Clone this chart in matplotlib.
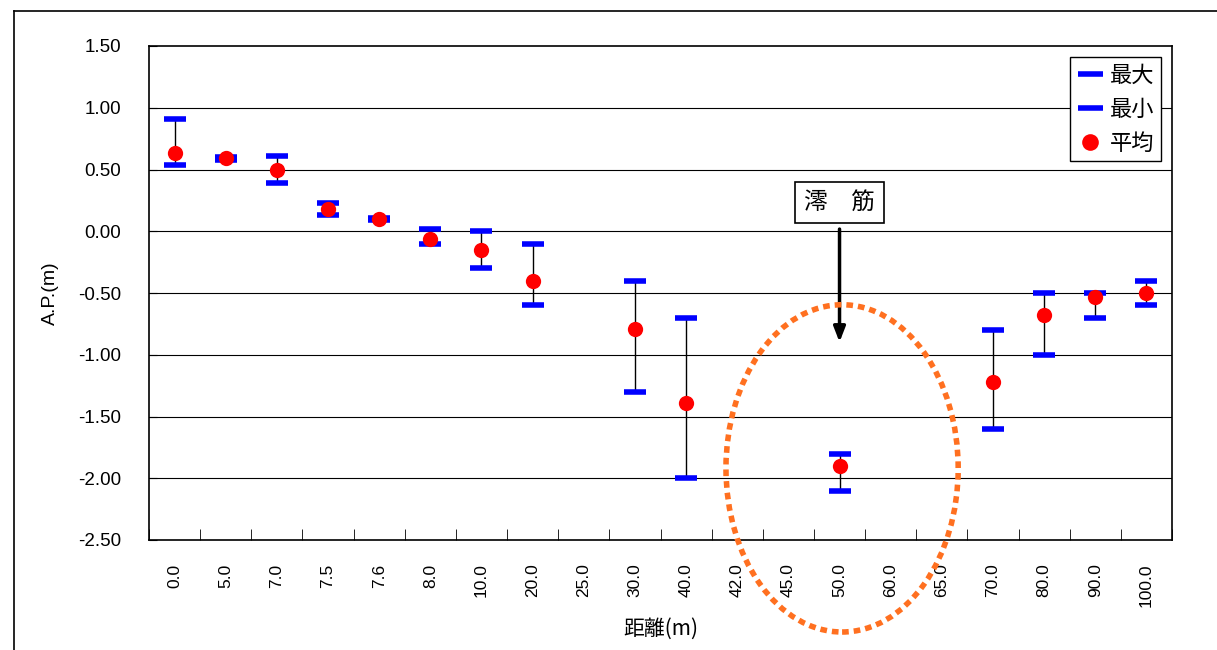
import matplotlib.pyplot as plt
import matplotlib
from matplotlib.lines import Line2D
from matplotlib.patches import Ellipse
import numpy as np

# フォント設定（日本語対応）
matplotlib.rcParams['font.family'] = ['Liberation Sans', 'Noto Sans CJK JP', 'DejaVu Sans']
matplotlib.rcParams['axes.unicode_minus'] = False

# データ：距離ごとの最大・最小・平均 (A.P. m)
distances = ['0.0', '5.0', '7.0', '7.5', '7.6', '8.0', '10.0', '20.0', '25.0', '30.0',
             '40.0', '42.0', '45.0', '50.0', '60.0', '65.0', '70.0', '80.0', '90.0', '100.0']
max_vals = [0.91, 0.60, 0.61, 0.23, 0.11, 0.02, 0.00, -0.10, np.nan, -0.40,
            -0.70, np.nan, np.nan, -1.80, np.nan, np.nan, -0.80, -0.50, -0.50, -0.40]
min_vals = [0.54, 0.58, 0.39, 0.13, 0.09, -0.10, -0.30, -0.60, np.nan, -1.30,
            -2.00, np.nan, np.nan, -2.10, np.nan, np.nan, -1.60, -1.00, -0.70, -0.60]
avg_vals = [0.63, 0.59, 0.50, 0.18, 0.10, -0.06, -0.15, -0.40, np.nan, -0.79,
            -1.39, np.nan, np.nan, -1.90, np.nan, np.nan, -1.22, -0.68, -0.53, -0.50]
y_ticks = [1.5, 1.0, 0.5, 0.0, -0.5, -1.0, -1.5, -2.0, -2.5]

fig = plt.figure(figsize=(12.17, 6.5), dpi=100)
ax = fig.add_axes([149 / 1217, 110 / 650, 1023 / 1217, 494 / 650])

x = np.arange(len(distances))

# グリッド線
for yv in y_ticks[1:-1]:
    ax.axhline(yv, color='black', linewidth=0.8, zorder=0)

# 最大～最小の縦線
ax.vlines(x, min_vals, max_vals, color='black', linewidth=1, zorder=1)

# 最大・最小・平均
ax.plot(x, max_vals, linestyle='none', marker='_', markersize=16, markeredgewidth=4,
        color='#0000FF', zorder=2)
ax.plot(x, min_vals, linestyle='none', marker='_', markersize=16, markeredgewidth=4,
        color='#0000FF', zorder=2)
ax.plot(x, avg_vals, linestyle='none', marker='o', markersize=11, color='#FF0000',
        markeredgewidth=0, zorder=3)

ax.set_xlim(-0.5, len(distances) - 0.5)
ax.set_ylim(-2.5, 1.5)

ax.set_yticks(y_ticks)
ax.set_yticklabels(['%.2f' % v for v in y_ticks], fontsize=13.5)
ax.tick_params(axis='y', direction='in', length=6, pad=20)

ax.set_xticks(x)
ax.set_xticklabels(distances, rotation=90, fontsize=12.5)
ax.set_xticks(np.arange(-0.5, len(distances)), minor=True)
ax.tick_params(axis='x', which='major', length=0, pad=17)
ax.tick_params(axis='x', which='minor', direction='in', length=8)

for sp in ax.spines.values():
    sp.set_linewidth(1.2)

ax.set_ylabel('A.P.(m)', fontsize=14, labelpad=14)
ax.set_xlabel('距離(m)', fontsize=15, labelpad=8, family=['Noto Sans CJK JP'])

# 凡例
handles = [
    Line2D([], [], linestyle='none', marker='_', markersize=18, markeredgewidth=4, color='#0000FF'),
    Line2D([], [], linestyle='none', marker='_', markersize=18, markeredgewidth=4, color='#0000FF'),
    Line2D([], [], linestyle='none', marker='o', markersize=12, color='#FF0000', markeredgewidth=0),
]
leg = ax.legend(handles, ['最大', '最小', '平均'], loc='upper right',
                bbox_to_anchor=(0.989, 0.978), fancybox=False, framealpha=1,
                edgecolor='black', handlelength=1.2, handletextpad=0.3,
                borderpad=0.3, labelspacing=0.5, borderaxespad=0,
                prop={'family': ['Noto Sans CJK JP'], 'size': 16})
leg.get_frame().set_linewidth(1)

# 澪筋の注記
ax.text(13.0, 0.23, '澪　筋', ha='center', va='center', fontsize=17,
        family=['Noto Sans CJK JP'],
        bbox=dict(boxstyle='square,pad=0.38', facecolor='white', edgecolor='black', linewidth=1.2),
        zorder=5)
ax.annotate('', xy=(13.0, -0.92), xytext=(13.0, 0.04),
            arrowprops=dict(arrowstyle='-|>,head_width=0.35,head_length=0.9',
                            color='black', linewidth=2.5), zorder=4)

# 楕円（点線）
ell = Ellipse((13.05, -1.92), width=4.54, height=2.65, fill=False,
              edgecolor='#FF7020', linewidth=4, linestyle=(0, (1.2, 0.9)),
              clip_on=False, zorder=6)
ax.add_patch(ell)

# 外枠
fig.add_artist(Line2D([14 / 1217, 1.0], [1 - 11 / 650, 1 - 11 / 650],
                      transform=fig.transFigure, color='black', linewidth=1.2))
fig.add_artist(Line2D([14 / 1217, 14 / 1217], [0.0, 1 - 11 / 650],
                      transform=fig.transFigure, color='black', linewidth=1.2))

fig.savefig('out.png', dpi=100)
